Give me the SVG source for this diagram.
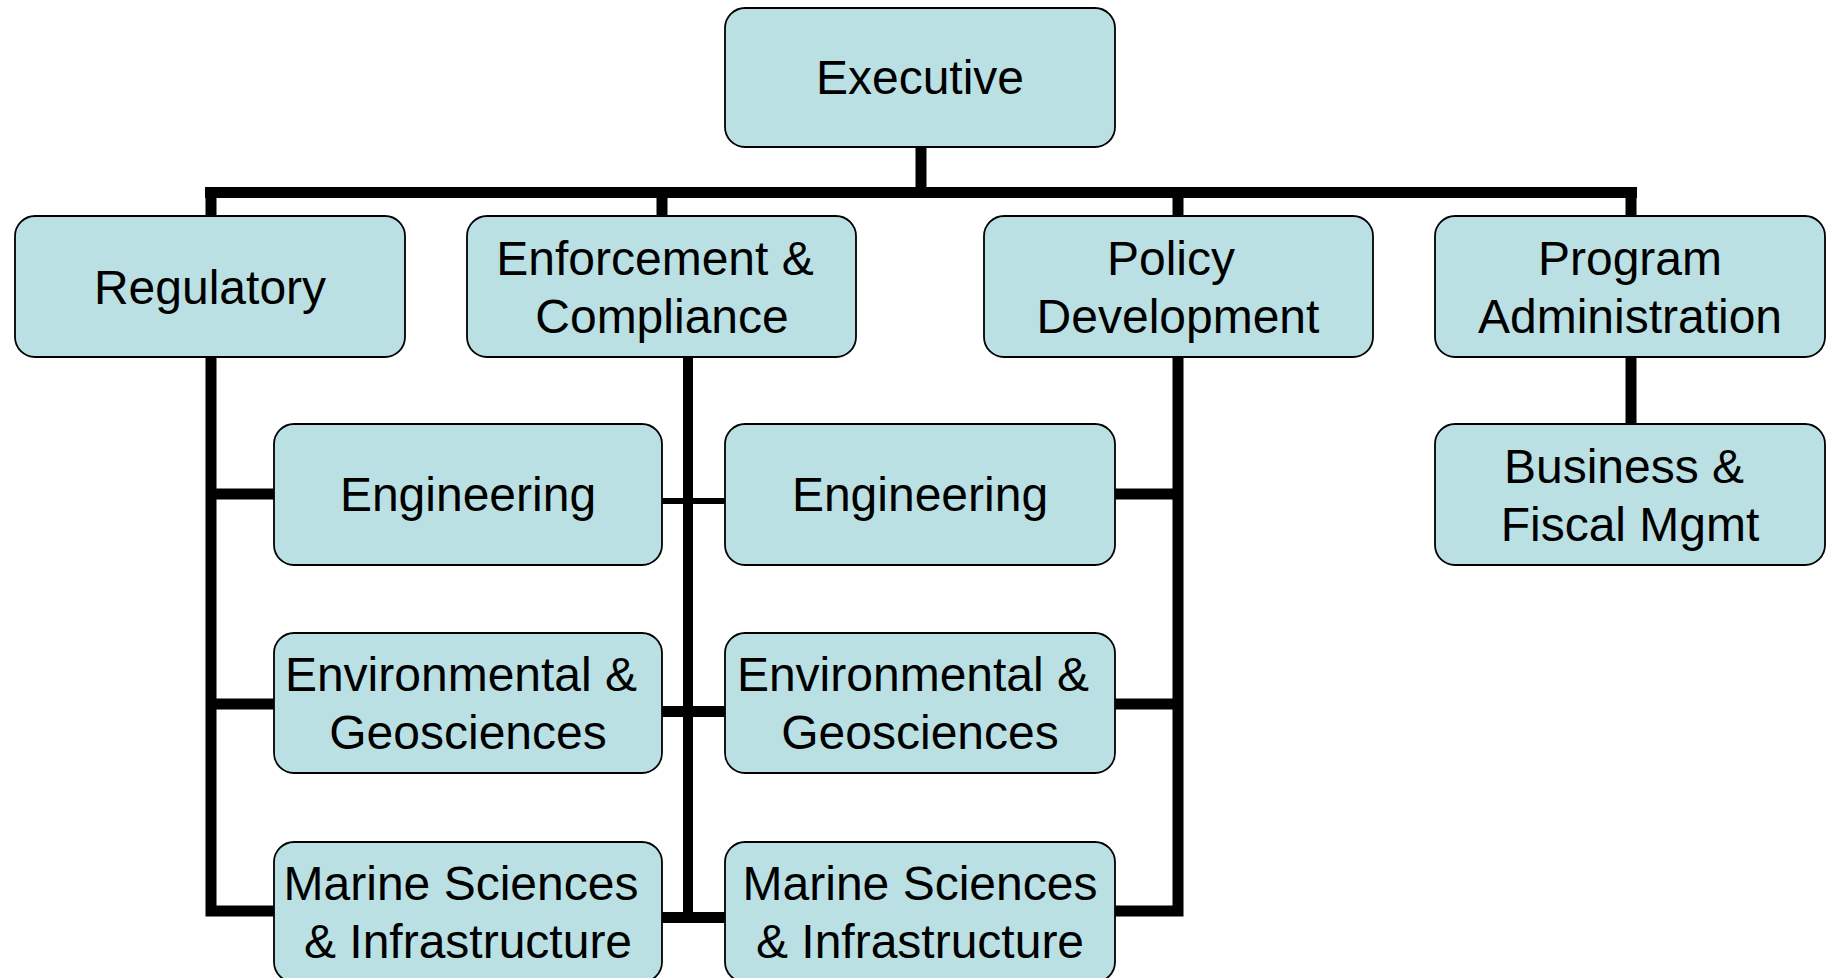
<svg xmlns="http://www.w3.org/2000/svg" width="1834" height="978" viewBox="0 0 1834 978">
<style>
.box{fill:#BAE0E3;stroke:#000;stroke-width:1.8}
.t{font-family:"Liberation Sans",Arial,sans-serif;font-size:48px;fill:#000;text-anchor:middle}
.c{fill:none;stroke:#000;stroke-width:11;stroke-linejoin:miter}
.thin{fill:none;stroke:#000;stroke-width:6}
</style>
<rect width="1834" height="978" fill="#fff"/>
<g id="connectors">
<path class="c" d="M921 147 V192.5"/>
<path class="c" d="M205 192.5 H1637"/>
<path class="c" d="M211 192 V216 M662 192 V216 M1178 192 V216 M1631 192 V216"/>
<path class="c" d="M211 357 V911 H274 M211 494 H274 M211 704 H274"/>
<path class="c" style="stroke-width:10" d="M688 357 V923"/>
<path class="thin" d="M662 501 H725"/>
<path class="c" d="M662 711.5 H725 M662 917.5 H725"/>
<path class="c" d="M1178 357 V911 H1115 M1178 494 H1115 M1178 704 H1115"/>
<path class="c" d="M1631 357 V424"/>
</g>
<g id="executive"><rect class="box" x="725" y="8" width="390" height="139" rx="20"/><text class="t" x="920" y="94">Executive</text></g>
<g id="regulatory"><rect class="box" x="15" y="216" width="390" height="141" rx="20"/><text class="t" x="210" y="304">Regulatory</text></g>
<g id="enforcement"><rect class="box" x="467" y="216" width="389" height="141" rx="20"/><text class="t" x="655" y="275">Enforcement &amp;</text><text class="t" x="662" y="333">Compliance</text></g>
<g id="policy"><rect class="box" x="984" y="216" width="389" height="141" rx="20"/><text class="t" x="1171" y="275">Policy</text><text class="t" x="1178" y="333">Development</text></g>
<g id="program"><rect class="box" x="1435" y="216" width="390" height="141" rx="20"/><text class="t" x="1630" y="275">Program</text><text class="t" x="1630" y="333">Administration</text></g>
<g id="business"><rect class="box" x="1435" y="424" width="390" height="141" rx="20"/><text class="t" x="1624" y="483">Business &amp;</text><text class="t" x="1630" y="541">Fiscal Mgmt</text></g>
<g id="engineering-1"><rect class="box" x="274" y="424" width="388" height="141" rx="20"/><text class="t" x="468" y="511">Engineering</text></g>
<g id="engineering-2"><rect class="box" x="725" y="424" width="390" height="141" rx="20"/><text class="t" x="920" y="511">Engineering</text></g>
<g id="environmental-1"><rect class="box" x="274" y="633" width="388" height="140" rx="20"/><text class="t" x="461" y="691">Environmental &amp;</text><text class="t" x="468" y="749">Geosciences</text></g>
<g id="environmental-2"><rect class="box" x="725" y="633" width="390" height="140" rx="20"/><text class="t" x="913" y="691">Environmental &amp;</text><text class="t" x="920" y="749">Geosciences</text></g>
<g id="marine-1"><rect class="box" x="274" y="842" width="388" height="140" rx="20"/><text class="t" x="461" y="900">Marine Sciences</text><text class="t" x="468" y="958">&amp; Infrastructure</text></g>
<g id="marine-2"><rect class="box" x="725" y="842" width="390" height="140" rx="20"/><text class="t" x="920" y="900">Marine Sciences</text><text class="t" x="920" y="958">&amp; Infrastructure</text></g>
</svg>
